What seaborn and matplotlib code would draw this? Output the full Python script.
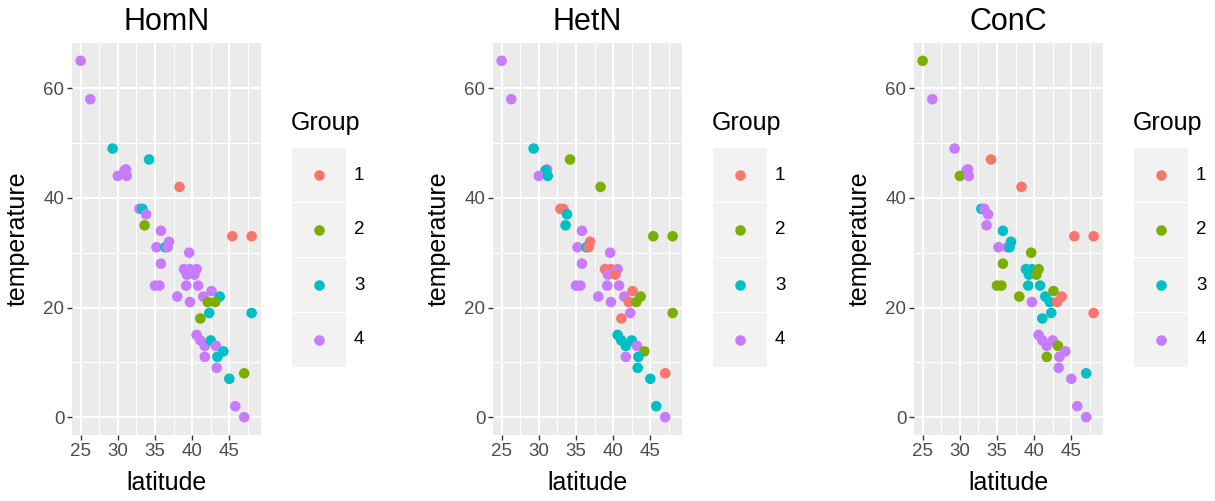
import numpy as np
import pandas as pd
import matplotlib
matplotlib.use("Agg")
import matplotlib.pyplot as plt
import seaborn as sns

# ----------------------------- Data -----------------------------
latitude = [25.0, 26.3, 29.3, 34.2, 31.1, 30.9, 30.0, 31.2, 38.3, 32.9,
            33.3, 33.8, 33.6, 35.8, 45.4, 48.0, 36.9, 35.2, 36.4, 36.7,
            39.6, 35.8, 38.9, 39.7, 40.6, 39.3, 40.3, 39.2, 40.8, 35.0,
            35.6, 38.0, 41.5, 42.6, 43.7, 42.1, 43.1, 39.7, 42.3, 48.0,
            41.1, 40.6, 41.1, 41.7, 42.5, 43.2, 44.2, 43.4, 41.7, 43.3,
            45.0, 47.0, 45.8, 47.0]
temperature = [65, 58, 49, 47, 45.2, 45, 44, 44, 42, 38,
               38, 37, 35, 34, 33, 33, 32, 31, 31, 31,
               30, 28, 27, 27, 27, 26, 26, 24, 24, 24,
               24, 22, 22, 23, 22, 21, 21, 21, 19, 19,
               18, 15, 14, 13, 14, 13, 12, 11, 11, 9,
               7, 8, 2, 0]
group_homn = [4, 4, 3, 3, 4, 4, 4, 4, 1, 4,
              3, 4, 2, 4, 1, 1, 4, 4, 3, 4,
              4, 4, 4, 4, 4, 4, 4, 4, 4, 4,
              4, 4, 4, 4, 3, 2, 2, 4, 3, 3,
              2, 4, 4, 4, 3, 4, 3, 3, 4, 4,
              3, 2, 4, 4]
group_hetn = [4, 4, 3, 2, 4, 3, 4, 3, 2, 1,
              1, 3, 3, 4, 2, 2, 1, 4, 3, 1,
              4, 4, 1, 1, 4, 4, 1, 4, 4, 4,
              4, 4, 4, 1, 2, 1, 2, 4, 4, 2,
              1, 3, 3, 3, 3, 4, 2, 3, 4, 3,
              3, 1, 3, 4]
group_conc = [2, 4, 4, 1, 4, 4, 2, 4, 1, 3,
              4, 4, 4, 3, 1, 1, 3, 4, 4, 3,
              2, 2, 3, 3, 2, 3, 2, 3, 3, 2,
              2, 2, 3, 2, 1, 3, 1, 4, 3, 1,
              3, 4, 4, 4, 4, 2, 4, 4, 2, 4,
              4, 3, 4, 4]

panel_titles = ["HomN", "HetN", "ConC"]
group_levels = ["1", "2", "3", "4"]
palette = ["#F8766D", "#7CAE00", "#00BFC4", "#C77CFF"]

# ----------------------------- Figure -----------------------------
W, H = 1215, 501
fig = plt.figure(figsize=(W / 100, H / 100), dpi=100)
plt.rcParams['font.family'] = ['Liberation Sans', 'DejaVu Sans']


def px_axes(x0, y0, x1, y1):
    return fig.add_axes([x0 / W, 1 - y1 / H, (x1 - x0) / W, (y1 - y0) / H])


groups = [group_homn, group_hetn, group_conc]
offsets = [0, 421, 842]

for k, (title, grp) in enumerate(zip(panel_titles, groups)):
    dx = offsets[k]
    df = pd.DataFrame({"latitude": latitude, "temperature": temperature,
                       "Group": [str(g) for g in grp]})
    ax = px_axes(72 + dx, 43, 261 + dx, 435)
    ax.set_facecolor("#EBEBEB")
    sns.scatterplot(data=df, x="latitude", y="temperature", hue="Group",
                    hue_order=group_levels, palette=palette, s=58,
                    linewidth=0, ax=ax, legend=False, zorder=3)
    ax.set_xlim(23.84, 49.26)
    ax.set_ylim(-3.25, 68.25)
    ax.set_xticks([25, 30, 35, 40, 45])
    ax.set_yticks([0, 20, 40, 60])
    ax.set_xticks([27.5, 32.5, 37.5, 42.5, 47.5], minor=True)
    ax.set_yticks([10, 30, 50], minor=True)
    ax.grid(which="major", color="white", lw=1.4, zorder=0)
    ax.grid(which="minor", color="white", lw=0.7, zorder=0)
    ax.set_axisbelow(True)
    for sp in ax.spines.values():
        sp.set_visible(False)
    ax.tick_params(which="major", length=3.5, width=1, color="#333333",
                   labelsize=13.5, labelcolor="#4D4D4D", pad=2)
    ax.tick_params(which="minor", length=0)
    ax.set_xlabel("latitude", fontsize=18, color="black", labelpad=8)
    ax.set_ylabel("temperature", fontsize=18, color="black", labelpad=10)
    ax.set_title(title, fontsize=22, color="black", pad=9)

    # legend drawn by hand, ggplot style
    lx0, lx1 = 292 + dx, 346 + dx
    fig.text((lx0 - 1) / W, 1 - 123 / H, "Group", fontsize=18,
             ha="left", va="center")
    for i, (lev, col) in enumerate(zip(group_levels, palette)):
        cy = 175 + 55 * i
        kax = px_axes(lx0, cy - 27, lx1, cy + 27)
        kax.set_facecolor("#F2F2F2")
        kax.set_xlim(0, 1)
        kax.set_ylim(0, 1)
        kax.scatter([0.5], [0.5], s=58, color=col, linewidth=0)
        kax.set_xticks([])
        kax.set_yticks([])
        for sp in kax.spines.values():
            sp.set_visible(False)
        fig.text((lx1 + 8) / W, 1 - cy / H, lev, fontsize=13.5,
                 ha="left", va="center")

fig.savefig("out.png", dpi=100)
